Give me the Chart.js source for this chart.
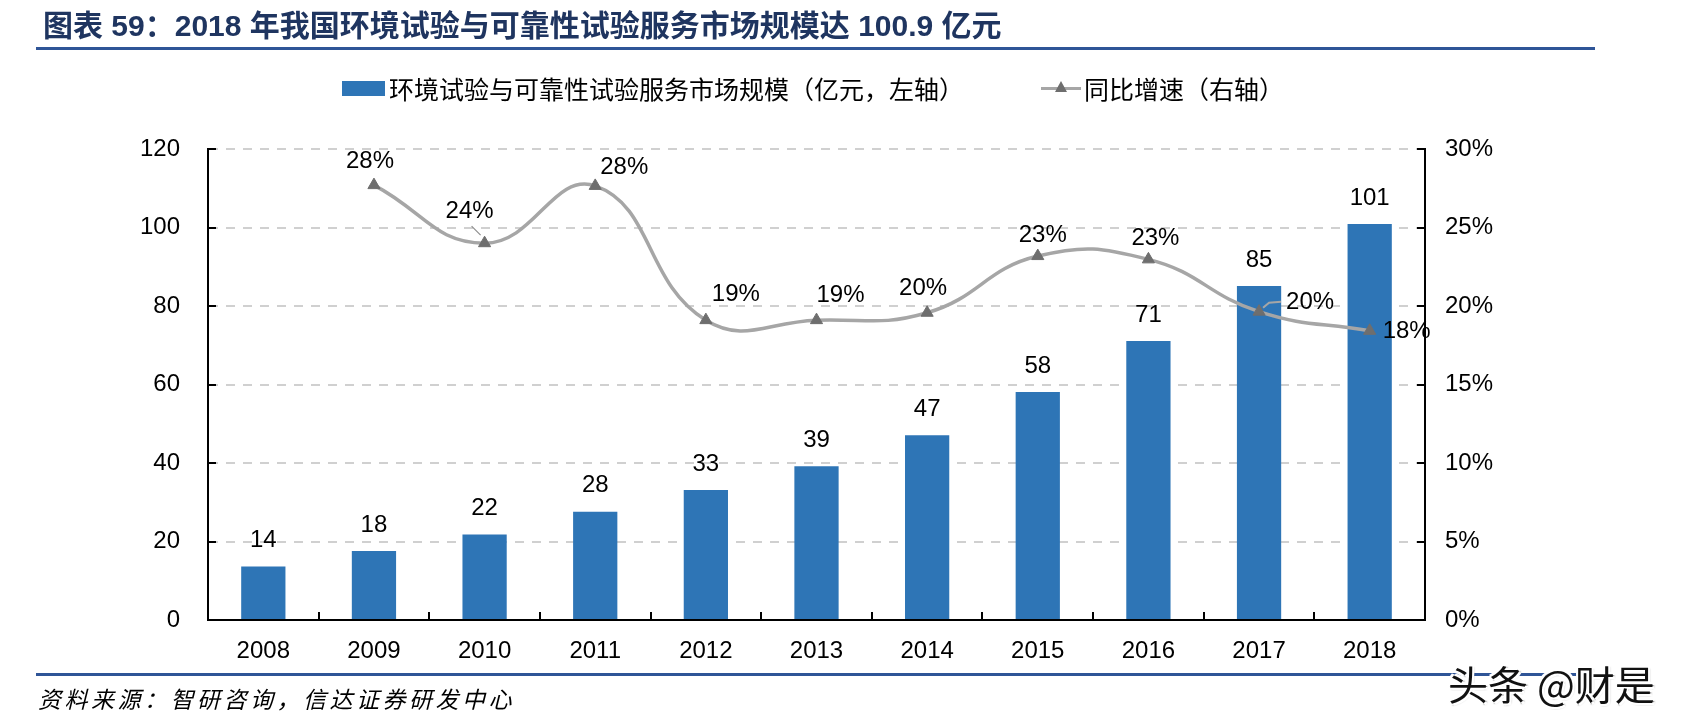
<!DOCTYPE html>
<html>
<head>
<meta charset="utf-8">
<script src="https://cdn.jsdelivr.net/npm/chart.js@4"></script>
<style>
  html, body { margin: 0; padding: 0; background: #fff; width: 1695px; height: 728px; overflow: hidden; }
  #wrap { position: relative; width: 1695px; height: 728px; }
  #c { position: absolute; left: 0; top: 0; }
  .abs { position: absolute; white-space: nowrap; }
  #title { left: 43px; top: 3px; font: bold 30px "Liberation Sans", "Noto Sans CJK SC", sans-serif; color: #1F3560; line-height: 40px; }
  #title .cjk { font-family: "Noto Sans CJK SC", sans-serif; font-weight: 700; }
  .hline { position: absolute; background: #2F5597; height: 3px; }
  .leg { font: 25px "Noto Sans CJK SC", sans-serif; color: #000; line-height: 30px; }
  #source { left: 38px; top: 683px; font: italic 23px "Noto Sans CJK SC", sans-serif; color: #000; line-height: 30px; letter-spacing: 3.5px; }
  #wm { left: 1448px; top: 658px; font: 40px "Noto Sans CJK SC", sans-serif; color: #111; line-height: 50px;
        text-shadow: 2px 2px 0 #fff, -2px -2px 0 #fff, 2px -2px 0 #fff, -2px 2px 0 #fff, 1px 1px 2px #000; }
</style>
</head>
<body>
<div id="wrap">
  <canvas id="c" width="1695" height="728"></canvas>
  <div id="title" class="abs"><span class="cjk">图表</span> 59<span class="cjk">：</span>2018 <span class="cjk">年我国环境试验与可靠性试验服务市场规模达</span> 100.9 <span class="cjk">亿元</span></div>
  <div class="hline" style="left:36px; top:47px; width:1559px;"></div>
  <div class="abs" style="left:342px; top:81px; width:43px; height:15px; background:#2E75B6;"></div>
  <div class="abs leg" style="left:389px; top:73px;">环境试验与可靠性试验服务市场规模（亿元，左轴）</div>
  <div class="abs" style="left:1041px; top:87px; width:40px; height:3px; background:#A6A6A6;"></div>
  <div class="abs" style="left:1055px; top:81px; width:0; height:0; border-left:6px solid transparent; border-right:6px solid transparent; border-bottom:11px solid #6E6E6E;"></div>
  <div class="abs leg" style="left:1084px; top:73px;">同比增速（右轴）</div>
  <div class="hline" style="left:36px; top:673px; width:1555px;"></div>
  <div id="source" class="abs">资料来源：智研咨询，信达证券研发中心</div>
  <div id="wm" class="abs">头条 @财是</div>
</div>
<script>
// ---- data ----
const years = ['2008','2009','2010','2011','2012','2013','2014','2015','2016','2017','2018'];
const marketSize = [13.6, 17.6, 21.8, 27.6, 33.1, 39.2, 47.1, 58.1, 71.1, 85.1, 100.9];
const growthRate = [null, 27.7, 24.0, 27.65, 19.1, 19.1, 19.57, 23.18, 22.97, 19.64, 18.42];
const leftTicks = [0, 20, 40, 60, 80, 100, 120];
const rightTicks = [0, 5, 10, 15, 20, 25, 30];
const barLabelText = ['14','18','22','28','33','39','47','58','71','85','101'];
const growthLabelText = [null,'28%','24%','28%','19%','19%','20%','23%','23%','20%','18%'];

// label placement (style only): offset of label centre from its point
const growthLabelOffset = [null,[-4,-24],[-15,-32],[29,-19],[30,-26],[24,-25],[-4,-24],[5,-21],[7,-21],[51,-9],[37,1]];

const FONT = '"Liberation Sans", Arial, sans-serif';

const labelPlugin = {
  id: 'labels',
  afterDraw(chart) {
    const ctx = chart.ctx;
    const area = chart.chartArea;
    const yl = chart.scales.y, yr = chart.scales.y1;
    ctx.save();
    // axis tick marks (inward)
    ctx.strokeStyle = '#000';
    ctx.lineWidth = 2;
    ctx.beginPath();
    leftTicks.forEach(v => { const y = Math.round(yl.getPixelForValue(v)); ctx.moveTo(area.left, y); ctx.lineTo(area.left + 8, y); });
    rightTicks.forEach(v => { const y = Math.round(yr.getPixelForValue(v)); ctx.moveTo(area.right, y); ctx.lineTo(area.right - 8, y); });
    const step = (area.right - area.left) / years.length;
    for (let i = 1; i < years.length; i++) {
      const x = Math.round(area.left + step * i);
      ctx.moveTo(x, area.bottom); ctx.lineTo(x, area.bottom - 8);
    }
    ctx.stroke();

    // bar labels
    ctx.fillStyle = '#000';
    ctx.font = '24px ' + FONT;
    ctx.textAlign = 'center';
    ctx.textBaseline = 'middle';
    const barMeta = chart.getDatasetMeta(0);
    barMeta.data.forEach((el, i) => {
      ctx.fillText(barLabelText[i], el.x, el.y - 26);
    });

    // leader lines
    const lineMeta = chart.getDatasetMeta(1);
    ctx.strokeStyle = '#8C8C8C';
    ctx.lineWidth = 1.2;
    const p2 = lineMeta.data[2];
    ctx.beginPath();
    ctx.moveTo(p2.x - 13, p2.y - 17);
    ctx.lineTo(p2.x - 4, p2.y - 8);
    ctx.stroke();
    const p9 = lineMeta.data[9];
    ctx.strokeStyle = '#A6A6A6';
    ctx.lineWidth = 2;
    ctx.beginPath();
    ctx.moveTo(p9.x + 4, p9.y - 4);
    ctx.lineTo(p9.x + 10, p9.y - 9);
    ctx.lineTo(p9.x + 22, p9.y - 10);
    ctx.stroke();

    // growth labels
    ctx.fillStyle = '#000';
    lineMeta.data.forEach((el, i) => {
      if (growthLabelText[i] == null) return;
      const o = growthLabelOffset[i];
      ctx.fillText(growthLabelText[i], el.x + o[0], el.y + o[1]);
    });
    ctx.restore();
  }
};

new Chart(document.getElementById('c'), {
  type: 'bar',
  data: {
    labels: years,
    datasets: [
      {
        label: '环境试验与可靠性试验服务市场规模（亿元，左轴）',
        data: marketSize,
        backgroundColor: '#2E75B6',
        barPercentage: 0.4,
        categoryPercentage: 1.0,
        yAxisID: 'y',
        order: 1
      },
      {
        type: 'line',
        label: '同比增速（右轴）',
        data: growthRate,
        yAxisID: 'y1',
        borderColor: '#A6A6A6',
        borderWidth: 3.5,
        tension: 0.45,
        spanGaps: true,
        pointStyle: 'triangle',
        pointRadius: 7,
        pointBackgroundColor: '#6E6E6E',
        pointBorderColor: '#6E6E6E',
        pointBorderWidth: 1,
        order: 0
      }
    ]
  },
  options: {
    responsive: false,
    animation: false,
    devicePixelRatio: 1,
    layout: { padding: { top: 149, left: 0, right: 0, bottom: 0 } },
    plugins: { legend: { display: false }, tooltip: { enabled: false }, title: { display: false } },
    scales: {
      x: {
        grid: { display: false, drawTicks: false },
        border: { display: true, color: '#000', width: 2 },
        ticks: { color: '#000', font: { family: FONT, size: 24 }, padding: 17, maxRotation: 0 },
        afterFit(s) { s.height = 108; }
      },
      y: {
        position: 'left',
        min: 0, max: 120,
        afterBuildTicks(s) { s.ticks = leftTicks.map(v => ({ value: v })); },
        grid: { color: '#D0D0D0', lineWidth: 2, drawTicks: false },
        border: { display: true, color: '#000', width: 2, dash: [9, 8] },
        ticks: { color: '#000', font: { family: FONT, size: 24 }, padding: 28 },
        afterFit(s) { s.width = 208; }
      },
      y1: {
        position: 'right',
        min: 0, max: 30,
        afterBuildTicks(s) { s.ticks = rightTicks.map(v => ({ value: v })); },
        grid: { display: false, drawTicks: false },
        border: { display: true, color: '#000', width: 2 },
        ticks: { color: '#000', font: { family: FONT, size: 24 }, padding: 20, callback: v => v + '%' },
        afterFit(s) { s.width = 270; }
      }
    }
  },
  plugins: [labelPlugin]
});
</script>
</body>
</html>
